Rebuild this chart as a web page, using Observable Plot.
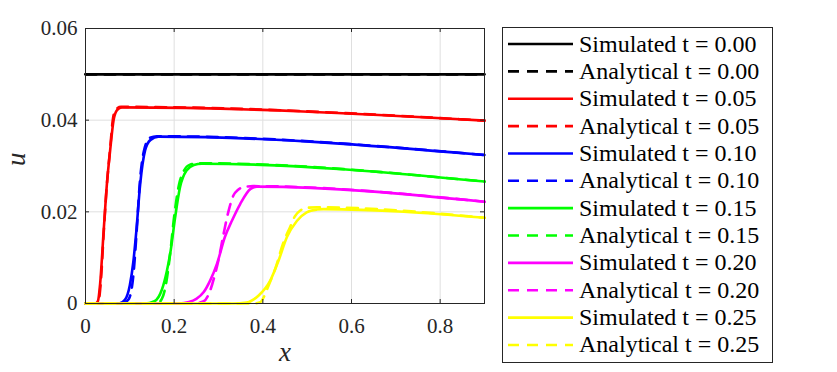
<!DOCTYPE html>
<html>
<head>
<meta charset="utf-8">
<script src="https://cdn.jsdelivr.net/npm/d3@7"></script>
<script src="https://cdn.jsdelivr.net/npm/@observablehq/plot@0.6"></script>
<style>
  body { margin: 0; background: #fff; }
  #wrap { position: relative; width: 837px; height: 372px; }
  #wrap svg { display: block; }
  #legend { position: absolute; left: 502px; top: 27px; }
</style>
</head>
<body>
<div id="wrap"></div>
<script>
// ---- data ----
const xTicks = [0, 0.2, 0.4, 0.6, 0.8];
const yTicks = [0, 0.02, 0.04, 0.06];
const xTickLabels = ["0", "0.2", "0.4", "0.6", "0.8"];
const yTickLabels = ["0", "0.02", "0.04", "0.06"];

const times = ["0.00", "0.05", "0.10", "0.15", "0.20", "0.25"];
const colors = ["#000000", "#ff0000", "#0000ff", "#00ff00", "#ff00ff", "#ffff00"];

const sim000 = [[0, 0.05], [0.9, 0.05]];
const ana000 = [[0, 0.05], [0.9, 0.05]];
const sim005 = [[0,0],[0.022,0],[0.028,0.0005],[0.033,0.0043],[0.0406,0.0153],[0.0482,0.026],[0.0556,0.0334],[0.0633,0.04],[0.0711,0.0422],[0.0822,0.0428],[0.9,0.0399]];
const ana005 = [[0,0],[0.0244,0],[0.03,0.0008],[0.0344,0.0045],[0.0411,0.0155],[0.0483,0.026],[0.0556,0.0338],[0.0622,0.0405],[0.0689,0.0424],[0.08,0.0429],[0.9,0.0399]];
const sim010 = [[0,0],[0.0756,0],[0.0889,0.0008],[0.1,0.004],[0.1078,0.009],[0.1144,0.0155],[0.1233,0.026],[0.1344,0.0334],[0.1467,0.0357],[0.1644,0.0364],[0.9,0.0324]];
const ana010 = [[0,0],[0.0833,0],[0.0978,0.001],[0.1078,0.006],[0.1156,0.016],[0.1222,0.026],[0.1311,0.033],[0.1444,0.0361],[0.1611,0.0365],[0.9,0.0324]];
const sim015 = [[0,0],[0.1333,0],[0.1556,0.0005],[0.1722,0.003],[0.1833,0.007],[0.1922,0.0116],[0.2022,0.0188],[0.2133,0.0254],[0.2278,0.029],[0.2444,0.0302],[0.2622,0.0305],[0.9,0.0266]];
const ana015 = [[0,0],[0.1611,0],[0.1722,0.001],[0.1811,0.004],[0.1911,0.011],[0.2,0.019],[0.2111,0.026],[0.2222,0.029],[0.2356,0.0303],[0.2556,0.0306],[0.9,0.0266]];
const sim020 = [[0,0],[0.2111,0],[0.2333,0.0003],[0.25,0.001],[0.2667,0.0025],[0.2811,0.005],[0.2967,0.0087],[0.3144,0.0145],[0.33,0.018],[0.3489,0.0217],[0.3722,0.025],[0.3867,0.0255],[0.9,0.0222]];
const ana020 = [[0,0],[0.2444,0],[0.2667,0.0005],[0.2811,0.0028],[0.2911,0.006],[0.3,0.0095],[0.3111,0.015],[0.3222,0.02],[0.3333,0.0235],[0.3444,0.0248],[0.3556,0.0254],[0.3778,0.0256],[0.9,0.0222]];
const sim025 = [[0,0],[0.3333,0],[0.3633,0.0002],[0.39,0.0017],[0.4167,0.005],[0.4356,0.0094],[0.4544,0.0145],[0.4767,0.018],[0.4989,0.0199],[0.5222,0.0205],[0.5367,0.0206],[0.9,0.0187]];
const ana025 = [[0,0],[0.3778,0],[0.3944,0.0003],[0.4022,0.0014],[0.4133,0.004],[0.4278,0.0075],[0.4467,0.0134],[0.4611,0.0166],[0.4722,0.019],[0.4844,0.0203],[0.5022,0.0209],[0.5222,0.021],[0.9,0.0187]];

const simulated = [sim000, sim005, sim010, sim015, sim020, sim025];
const analytical = [ana000, ana005, ana010, ana015, ana020, ana025];

// ---- build series ----
const series = [];
times.forEach((t, i) => {
  series.push({label: "Simulated t = " + t, color: colors[i], dash: null, pts: simulated[i]});
  series.push({label: "Analytical t = " + t, color: colors[i], dash: "11,8", pts: analytical[i]});
});

const FONT = "'Liberation Serif', 'DejaVu Serif', serif";
const lineW = 2.6;

const chart = Plot.plot({
  width: 837,
  height: 372,
  marginLeft: 85,
  marginRight: 353,
  marginTop: 28,
  marginBottom: 69,
  style: {fontFamily: FONT, fontSize: "21px", color: "#262626", background: "#fff"},
  x: {domain: [0, 0.9]},
  y: {domain: [0, 0.06]},
  marks: [
    Plot.gridX(xTicks.slice(1), {stroke: "#dfdfdf", strokeOpacity: 1}),
    Plot.gridY(yTicks.slice(1, 3), {stroke: "#dfdfdf", strokeOpacity: 1}),
    ...series.map(s => Plot.line(s.pts, {
      x: d => d[0], y: d => d[1],
      stroke: s.color, strokeWidth: lineW,
      strokeDasharray: s.dash, curve: "monotone-x"
    })),
    Plot.tickX(xTicks, {x: d => d, insetTop: 271, stroke: "#262626"}),
    Plot.tickX(xTicks, {x: d => d, insetBottom: 271, stroke: "#262626"}),
    Plot.tickY(yTicks, {y: d => d, insetRight: 395, stroke: "#262626"}),
    Plot.tickY(yTicks, {y: d => d, insetLeft: 395, stroke: "#262626"}),
    Plot.frame({stroke: "#262626", strokeWidth: 1}),
    Plot.axisX(xTicks, {tickSize: 0, tickPadding: 15, tickFormat: (d, i) => xTickLabels[i], label: null, fontSize: 21, fontFamily: FONT}),
    Plot.axisY(yTicks, {tickSize: 0, tickPadding: 8, tickFormat: (d, i) => yTickLabels[i], label: null, fontSize: 21, fontFamily: FONT}),
    Plot.text(["x"], {frameAnchor: "bottom", dy: 57, fontSize: 27, fontStyle: "italic", fontFamily: FONT, fill: "#262626"}),
    Plot.text(["u"], {frameAnchor: "left", dx: -69, rotate: -90, fontSize: 27, fontStyle: "italic", fontFamily: FONT, fill: "#262626"})
  ]
});
document.getElementById("wrap").appendChild(chart);

// ---- legend ----
const LW = 271, LH = 336;
const leg = d3.select("#wrap").append("svg")
  .attr("id", "legend").attr("width", LW).attr("height", LH);
leg.append("rect").attr("x", 0.5).attr("y", 0.5).attr("width", LW - 1).attr("height", LH - 1)
  .attr("fill", "#fff").attr("stroke", "#262626").attr("stroke-width", 1);
const rowH = 27.36, row0 = 17;
const g = leg.selectAll("g.row").data(series).join("g")
  .attr("transform", (d, i) => `translate(0,${row0 + i * rowH})`);
g.append("line").attr("x1", 6).attr("x2", 71).attr("y1", 0).attr("y2", 0)
  .attr("stroke", d => d.color).attr("stroke-width", lineW)
  .attr("stroke-dasharray", d => d.dash);
g.append("text").attr("x", 77).attr("y", 7.5)
  .attr("font-family", FONT).attr("font-size", 24)
  .attr("fill", "#000").text(d => d.label);
</script>
</body>
</html>
